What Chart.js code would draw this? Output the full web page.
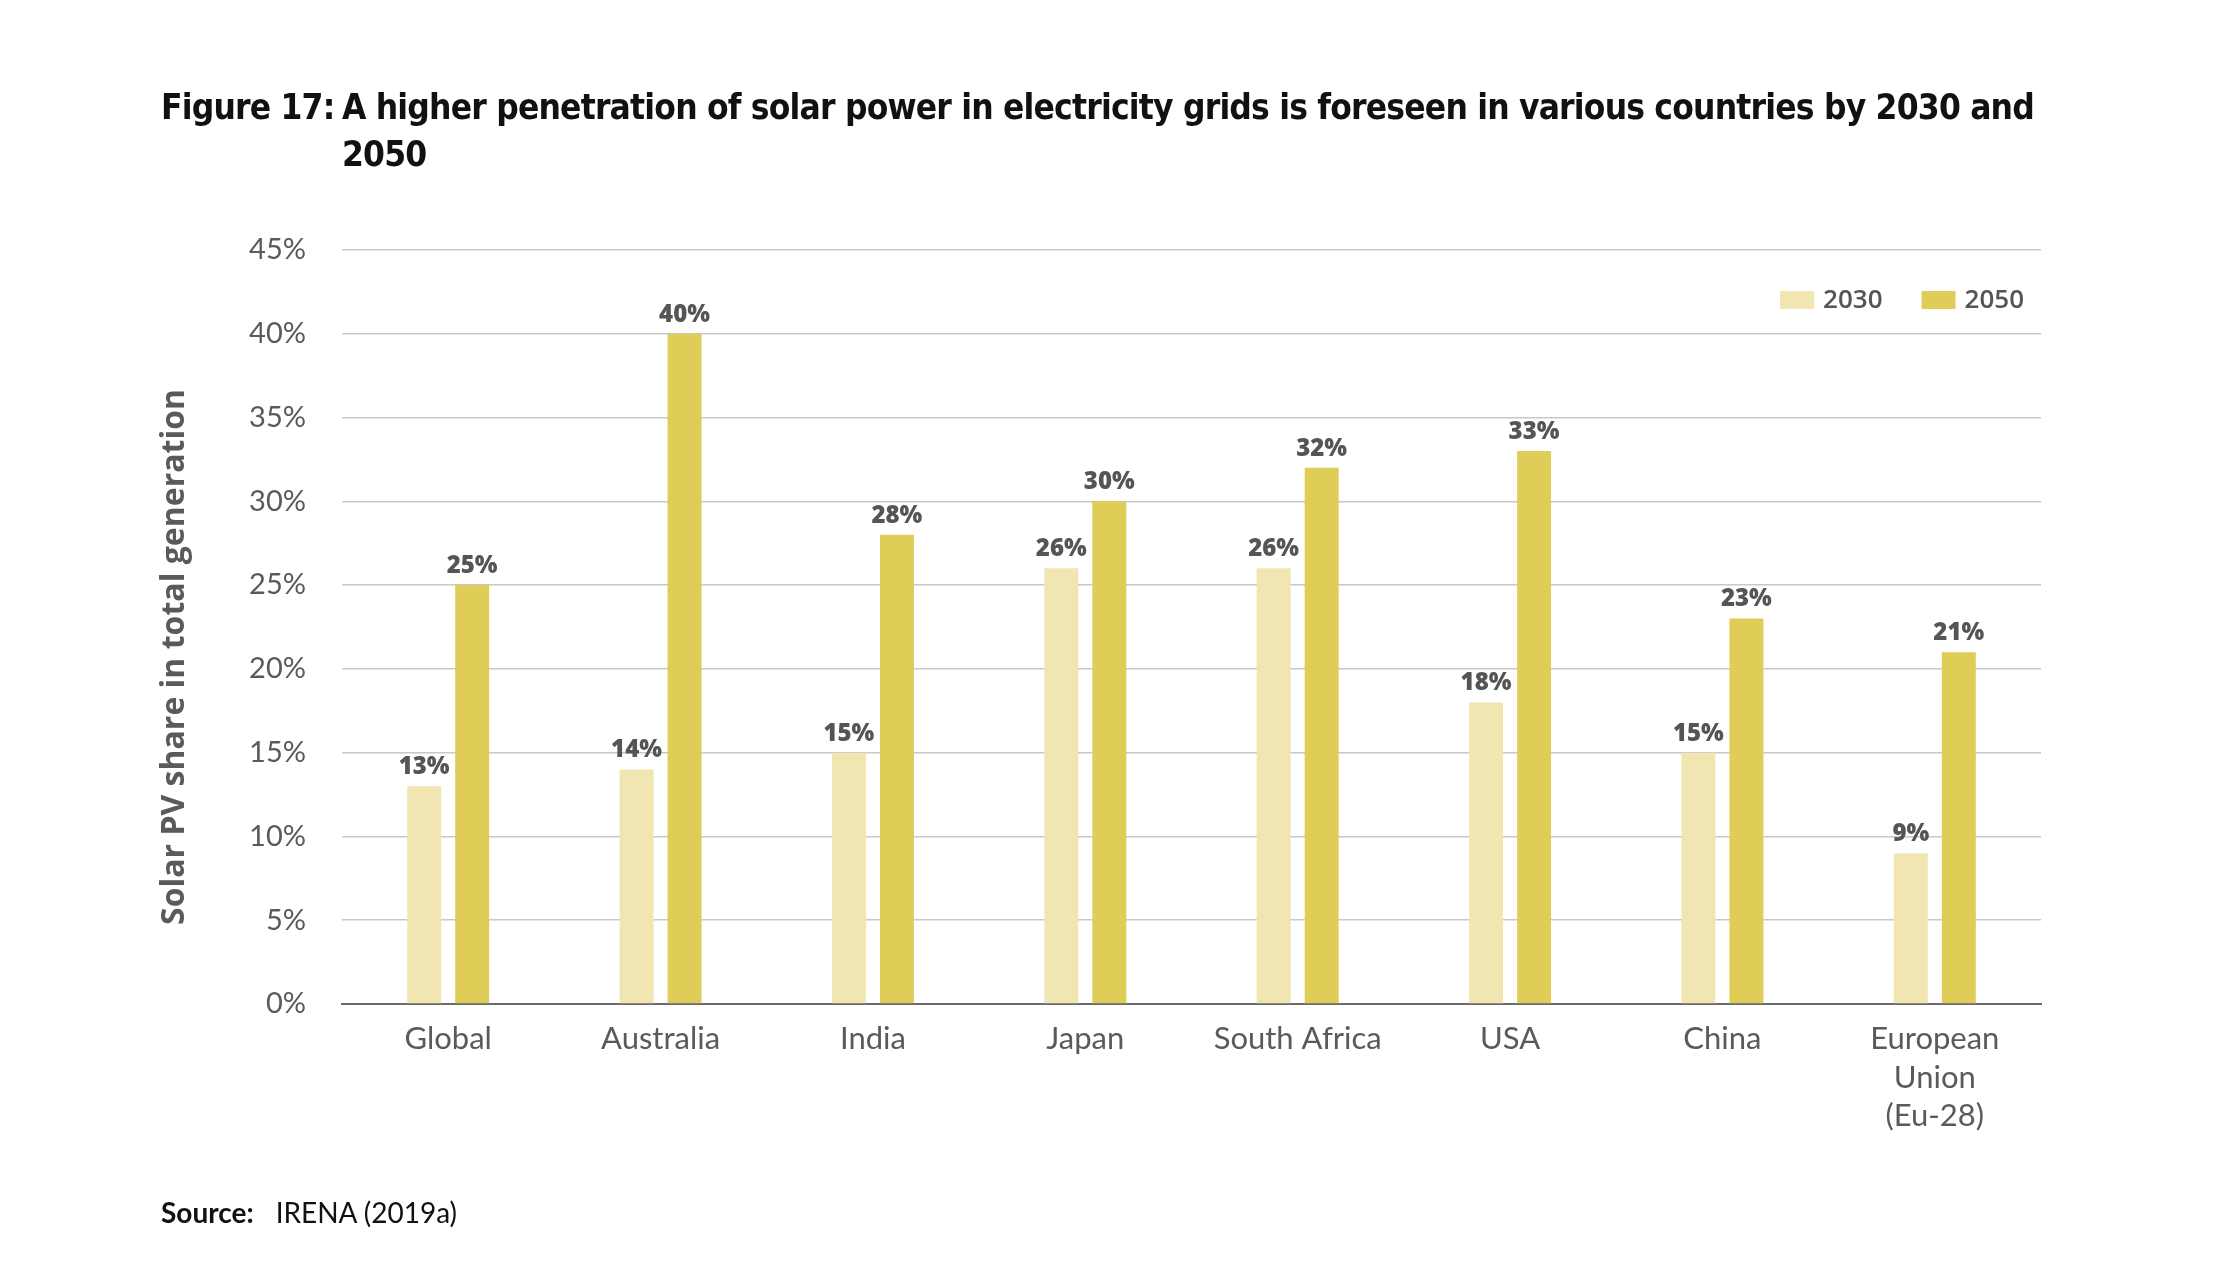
<!DOCTYPE html>
<html>
<head>
<meta charset="utf-8">
<title>Figure 17</title>
<script src="https://cdn.jsdelivr.net/npm/chart.js@4.4.1/dist/chart.umd.min.js"></script>
<style>
  html, body { margin: 0; padding: 0; background: #fff; }
  #page { position: relative; width: 2236px; height: 1288px; overflow: hidden; }
  #title { position: absolute; left: 161px; top: 84px; display: flex; white-space: nowrap;
           font-family: "Liberation Sans Narrow", "DejaVu Sans Condensed", sans-serif;
           font-weight: bold; font-size: 35px; letter-spacing: -0.8px; line-height: 47px; color: #111; }
  #title .num { width: 181px; flex: none; }
  #chart-box { position: absolute; left: 0; top: 0; width: 2236px; height: 1288px; }
  #source { position: absolute; left: 161px; top: 1194px; font-family: Lato, sans-serif;
            font-size: 28px; line-height: 36px; color: #111; }
  #source b { margin-right: 22px; }
</style>
</head>
<body>
<div id="page">
  <div id="chart-box"><canvas id="solarChart"></canvas></div>
  <div id="title"><span class="num">Figure 17:</span><span>A higher penetration of solar power in electricity grids is foreseen in various countries by 2030 and<br>2050</span></div>
  <div id="source"><b>Source:</b>IRENA (2019a)</div>
</div>
<script>
const categories = ['Global', 'Australia', 'India', 'Japan', 'South Africa', 'USA', 'China', ['European', 'Union', '(Eu-28)']];
const seriesNames = ['2030', '2050'];
const share2030 = [13, 14, 15, 26, 26, 18, 15, 9];
const share2050 = [25, 40, 28, 30, 32, 33, 23, 21];
const yMax = 45, yStep = 5;
const yTitle = 'Solar PV share in total generation';

const grey = '#5a5a5a';

// numbers above each bar
const valueLabels = {
    id: 'valueLabels',
    afterDatasetsDraw(chart) {
        const ctx = chart.ctx;
        ctx.save();
        ctx.font = '800 24px "Open Sans", sans-serif';
        ctx.fillStyle = '#555';
        ctx.textAlign = 'center';
        ctx.textBaseline = 'bottom';
        chart.data.datasets.forEach((ds, i) => {
            chart.getDatasetMeta(i).data.forEach((bar, j) => {
                ctx.fillText(ds.data[j] + '%', bar.x, bar.y - 7);
            });
        });
        ctx.restore();
    }
};

// small legend sitting inside the plot, top right + rotated y title
const extras = {
    id: 'extras',
    afterDraw(chart) {
        const ctx = chart.ctx, area = chart.chartArea;
        const boxW = 34, boxH = 18, gap = 9, itemGap = 39;
        ctx.save();
        ctx.font = '600 26px "Open Sans", sans-serif';
        ctx.textBaseline = 'middle';
        const items = chart.data.datasets.map(ds => ({ text: ds.label, color: ds.backgroundColor, w: ctx.measureText(ds.label).width }));
        const total = items.reduce((s, it) => s + boxW + gap + it.w, 0) + itemGap * (items.length - 1);
        let x = area.right - 17 - total;
        const y = area.top + 50;
        items.forEach(it => {
            ctx.fillStyle = it.color;
            ctx.fillRect(x, y - boxH / 2, boxW, boxH);
            x += boxW + gap;
            ctx.fillStyle = '#555';
            ctx.fillText(it.text, x, y + 1);
            x += it.w + itemGap;
        });

        // axis title, a bit below the plot middle like the original
        ctx.translate(175, (area.top + area.bottom) / 2 + 30);
        ctx.rotate(-Math.PI / 2);
        ctx.font = 'bold 32px "Open Sans", sans-serif';
        ctx.fillStyle = grey;
        ctx.textAlign = 'center';
        ctx.fillText(yTitle, 0, 0);
        ctx.restore();
    }
};

const ctx = document.getElementById('solarChart').getContext('2d');
const myChart = new Chart(ctx, {
    type: 'bar',
    data: {
        labels: categories,
        datasets: [
            { label: seriesNames[0], data: share2030, backgroundColor: '#f1e6b2' },
            { label: seriesNames[1], data: share2050, backgroundColor: '#e0cd57' }
        ]
    },
    options: {
        responsive: true,
        maintainAspectRatio: false,
        animation: false,
        devicePixelRatio: 1,
        categoryPercentage: 0.452,
        barPercentage: 0.708,
        layout: { padding: { left: 130, right: 195, top: 250, bottom: 104 } },
        plugins: { legend: { display: false }, tooltip: { enabled: false } },
        scales: {
            x: {
                grid: { display: false },
                border: { display: true, color: '#6b6b6b', width: 2 },
                ticks: { color: grey, padding: 8, maxRotation: 0, autoSkip: false,
                         font: { family: 'Lato', size: 31, lineHeight: 1.24 } },
                afterFit: s => { s.height = 180; }
            },
            y: {
                min: 0, max: yMax,
                border: { display: false },
                grid: { drawTicks: false, lineWidth: 1.5,
                        color: c => c.tick && c.tick.value === 0 ? '#6b6b6b' : '#c8c8c8' },
                ticks: { stepSize: yStep, padding: 36, color: grey,
                         font: { family: 'Lato', size: 29 },
                         callback: v => v + '%' },
                afterFit: s => { s.width = 212; }
            }
        }
    },
    plugins: [valueLabels, extras]
});
</script>
</body>
</html>
